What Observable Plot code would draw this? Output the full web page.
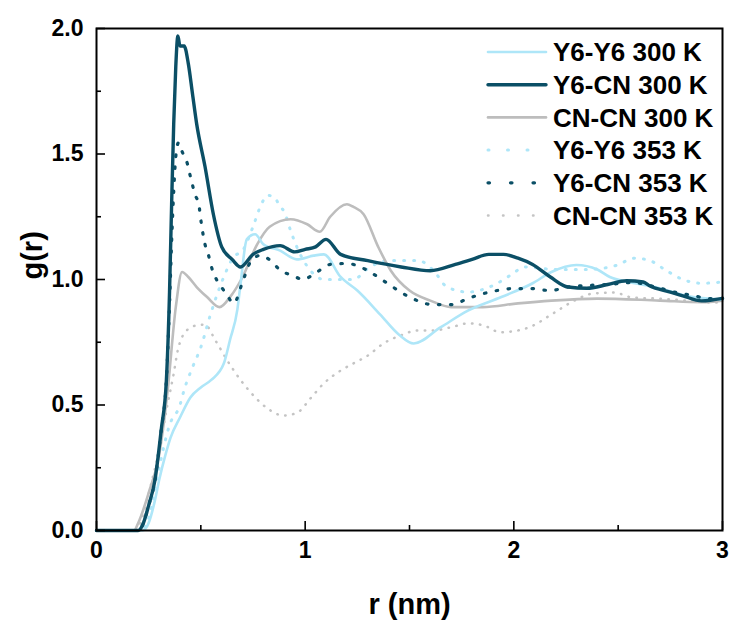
<!DOCTYPE html>
<html><head><meta charset="utf-8">
<script src="https://cdn.jsdelivr.net/npm/d3@7"></script>
<script src="https://cdn.jsdelivr.net/npm/@observablehq/plot@0.6"></script>
<style>body{margin:0;background:#fff;} #chart svg{display:block;}</style>
</head><body><div id="chart"></div>
<script>
// ---- data: [r (nm), g(r)] ----
const y6y6_300 = [[0,0],[0.22,0],[0.25,0.03],[0.28,0.12],[0.3,0.2],[0.33,0.3],[0.355,0.37],[0.4,0.45],[0.45,0.53],[0.5,0.57],[0.55,0.6],[0.61,0.665],[0.64,0.76],[0.675,0.88],[0.69,0.98],[0.72,1.16],[0.76,1.18],[0.8,1.14],[0.88,1.115],[0.96,1.08],[1.04,1.095],[1.09,1.1],[1.17,1.01],[1.25,0.956],[1.36,0.86],[1.45,0.78],[1.52,0.745],[1.65,0.81],[1.78,0.876],[1.94,0.93],[2.09,0.985],[2.18,1.03],[2.3,1.058],[2.4,1.04],[2.46,1.01],[2.55,0.99],[2.65,0.975],[2.86,0.93],[3.0,0.92]];
const y6cn_300 = [[0,0],[0.2,0],[0.22,0.02],[0.25,0.1],[0.28,0.2],[0.31,0.4],[0.335,0.6],[0.35,0.95],[0.36,1.3],[0.37,1.62],[0.38,1.85],[0.39,1.97],[0.40,1.93],[0.42,1.93],[0.44,1.86],[0.46,1.74],[0.48,1.62],[0.52,1.45],[0.56,1.26],[0.6,1.13],[0.65,1.08],[0.69,1.05],[0.75,1.1],[0.8,1.12],[0.88,1.135],[0.95,1.11],[1.0,1.12],[1.05,1.13],[1.1,1.16],[1.17,1.1],[1.3,1.075],[1.46,1.05],[1.6,1.035],[1.72,1.06],[1.8,1.08],[1.88,1.1],[1.95,1.1],[2.02,1.085],[2.09,1.06],[2.175,1.01],[2.26,0.97],[2.35,0.965],[2.45,0.98],[2.54,0.995],[2.62,0.99],[2.65,0.975],[2.75,0.95],[2.81,0.935],[2.9,0.915],[3.0,0.925]];
const cncn_300 = [[0,0],[0.18,0],[0.2,0.03],[0.25,0.15],[0.3,0.3],[0.34,0.55],[0.38,0.89],[0.41,1.03],[0.44,1.01],[0.48,0.97],[0.53,0.93],[0.59,0.89],[0.64,0.93],[0.7,1.01],[0.77,1.14],[0.83,1.21],[0.93,1.24],[1.01,1.22],[1.07,1.19],[1.12,1.25],[1.2,1.3],[1.23,1.29],[1.28,1.26],[1.35,1.13],[1.41,1.036],[1.5,0.956],[1.6,0.916],[1.7,0.89],[1.85,0.89],[2.02,0.905],[2.18,0.916],[2.4,0.924],[2.7,0.916],[2.9,0.91],[3.0,0.916]];
const y6y6_353 = [[0,0],[0.22,0],[0.25,0.05],[0.3,0.25],[0.35,0.42],[0.4,0.5],[0.42,0.56],[0.46,0.65],[0.5,0.73],[0.546,0.86],[0.61,1.01],[0.657,1.09],[0.7,1.115],[0.75,1.21],[0.79,1.3],[0.82,1.335],[0.85,1.33],[0.88,1.29],[0.9,1.27],[0.93,1.195],[0.96,1.13],[1.025,1.036],[1.09,1.0],[1.15,1.0],[1.23,1.0],[1.31,1.05],[1.41,1.076],[1.5,1.076],[1.54,1.076],[1.615,1.036],[1.68,0.97],[1.78,0.95],[1.9,0.976],[1.99,1.02],[2.05,1.05],[2.2,1.04],[2.35,1.04],[2.49,1.056],[2.58,1.085],[2.65,1.076],[2.73,1.036],[2.81,1.0],[2.9,0.985],[3.0,0.99]];
const y6cn_353 = [[0,0],[0.2,0],[0.22,0.02],[0.25,0.1],[0.28,0.2],[0.31,0.4],[0.335,0.6],[0.35,0.9],[0.36,1.15],[0.37,1.35],[0.38,1.49],[0.393,1.545],[0.41,1.51],[0.436,1.46],[0.45,1.41],[0.474,1.335],[0.49,1.3],[0.503,1.22],[0.52,1.14],[0.537,1.096],[0.556,1.036],[0.575,1.0],[0.594,0.976],[0.627,0.936],[0.657,0.905],[0.704,1.0],[0.738,1.07],[0.786,1.096],[0.834,1.076],[0.882,1.036],[0.94,1.016],[0.99,1.0],[1.04,1.02],[1.12,1.06],[1.2,1.064],[1.265,1.05],[1.33,1.02],[1.42,0.97],[1.5,0.93],[1.615,0.9],[1.7,0.9],[1.78,0.924],[1.855,0.944],[1.92,0.956],[2.0,0.964],[2.08,0.964],[2.175,0.956],[2.257,0.97],[2.35,0.976],[2.45,0.98],[2.57,0.988],[2.68,0.97],[2.78,0.948],[2.86,0.936],[2.93,0.924],[3.0,0.925]];
const cncn_353 = [[0,0],[0.19,0],[0.22,0.05],[0.26,0.18],[0.3,0.32],[0.34,0.5],[0.37,0.625],[0.39,0.72],[0.436,0.8],[0.48,0.817],[0.52,0.82],[0.57,0.757],[0.627,0.677],[0.69,0.6],[0.752,0.538],[0.82,0.486],[0.896,0.458],[0.963,0.47],[1.025,0.526],[1.088,0.585],[1.17,0.637],[1.23,0.665],[1.3,0.697],[1.375,0.745],[1.457,0.777],[1.54,0.797],[1.615,0.797],[1.7,0.81],[1.78,0.825],[1.855,0.817],[1.935,0.79],[2.02,0.797],[2.094,0.817],[2.16,0.85],[2.21,0.876],[2.29,0.916],[2.38,0.944],[2.48,0.948],[2.57,0.928],[2.69,0.924],[2.83,0.916],[2.96,0.908],[3.0,0.91]];

const seriesNames = ["Y6-Y6 300 K","Y6-CN 300 K","CN-CN 300 K","Y6-Y6 353 K","Y6-CN 353 K","CN-CN 353 K"];
const seriesData = [y6y6_300, y6cn_300, cncn_300, y6y6_353, y6cn_353, cncn_353];

const xMajor = [0,1,2,3];
const xMinor = [0.5,1.5,2.5];
const yMajor = [0,0.5,1,1.5,2];
const yMinor = [0.25,0.75,1.25,1.75];
const xLabel = "r (nm)";
const yLabel = "g(r)";

// ---- styles ----
const DARK = "#0b4f66", LIGHT = "#aee6f8", GRAY = "#bdbdbd", GRAY2 = "#c4c4c4";
const styles = {
  "Y6-Y6 300 K": {stroke: LIGHT, width: 2.6, dash: null, legendDash: null},
  "Y6-CN 300 K": {stroke: DARK, width: 3.4, dash: null, legendDash: null},
  "CN-CN 300 K": {stroke: GRAY, width: 2.6, dash: null, legendDash: null},
  "Y6-Y6 353 K": {stroke: LIGHT, width: 3, dash: "1 9", legendDash: "1 18.5"},
  "Y6-CN 353 K": {stroke: DARK, width: 3.2, dash: "1.5 10.5", legendDash: "1.5 21"},
  "CN-CN 353 K": {stroke: GRAY2, width: 2.5, dash: "0.5 7.5", legendDash: "0.5 14.5"}
};
const drawOrder = ["CN-CN 353 K","Y6-Y6 353 K","CN-CN 300 K","Y6-Y6 300 K","Y6-CN 353 K","Y6-CN 300 K"];

const table = [];
seriesNames.forEach((name, i) => seriesData[i].forEach(([r, g]) => table.push({series: name, r, g})));

const FONT = "'Liberation Sans', Arial, sans-serif";

const lineMarks = drawOrder.map(name => {
  const s = styles[name];
  return Plot.line(table.filter(d => d.series === name), {
    x: "r", y: "g", stroke: s.stroke, strokeWidth: s.width,
    strokeDasharray: s.dash, strokeLinecap: "round", strokeLinejoin: "round",
    curve: "monotone-x"
  });
});

const plot = Plot.plot({
  width: 733, height: 626,
  marginLeft: 96, marginRight: 11, marginTop: 28, marginBottom: 96,
  x: {domain: [0, 3]},
  y: {domain: [0, 2]},
  style: {fontFamily: FONT, fontWeight: "bold", fontSize: "23px", color: "black", background: "white"},
  marks: [
    ...lineMarks,
    Plot.axisX(xMajor, {tickSize: -9, text: null, label: null, strokeWidth: 1.6}),
    Plot.axisX(xMinor, {tickSize: -5, text: null, label: null, strokeWidth: 1.6}),
    Plot.axisX(xMajor, {tickSize: 0, tickPadding: 11, tickFormat: d => String(d), label: null, fontSize: 23, fontWeight: "bold"}),
    Plot.axisY(yMajor, {tickSize: -9, text: null, label: null, strokeWidth: 1.6}),
    Plot.axisY(yMinor, {tickSize: -5, text: null, label: null, strokeWidth: 1.6}),
    Plot.axisY(yMajor, {tickSize: 0, tickPadding: 13, tickFormat: d3.format(".1f"), label: null, fontSize: 23, fontWeight: "bold"}),
    Plot.frame({stroke: "black", strokeWidth: 2}),
    Plot.text([xLabel], {frameAnchor: "bottom", dy: 74, text: d => d, fontSize: 29, fontWeight: "bold", lineAnchor: "middle"}),
    Plot.text([yLabel], {frameAnchor: "left", dx: -64, text: d => d, rotate: -90, fontSize: 29, fontWeight: "bold", lineAnchor: "middle"})
  ]
});

// legend inside the plot (top right)
const svg = d3.select(plot);
const lg = svg.append("g").attr("font-family", FONT).attr("font-weight", "bold").attr("font-size", 26).attr("text-anchor", "start");
seriesNames.forEach((name, i) => {
  const s = styles[name];
  const y = 52 + i * 32.7;
  lg.append("line").attr("x1", 488).attr("x2", 546).attr("y1", y).attr("y2", y)
    .attr("stroke", s.stroke).attr("stroke-width", s.width)
    .attr("stroke-dasharray", s.legendDash).attr("stroke-linecap", "round");
  lg.append("text").attr("x", 553).attr("y", y).attr("dy", "0.36em").attr("text-anchor", "start").attr("fill", "black").text(name);
});

document.getElementById("chart").appendChild(plot);
</script>
</body></html>
